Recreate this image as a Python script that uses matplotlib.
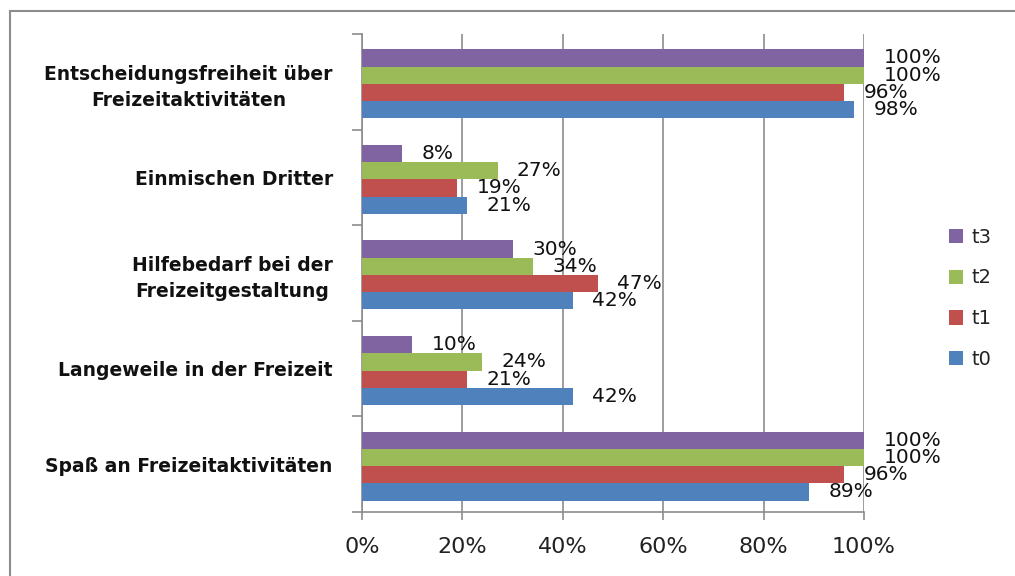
import matplotlib
matplotlib.use("Agg")
import matplotlib.pyplot as plt
import numpy as np
from matplotlib.patches import Rectangle

categories = [
    "Entscheidungsfreiheit über\nFreizeitaktivitäten",
    "Einmischen Dritter",
    "Hilfebedarf bei der\nFreizeitgestaltung",
    "Langeweile in der Freizeit",
    "Spaß an Freizeitaktivitäten",
]
series_names = ["t3", "t2", "t1", "t0"]
t3 = [100, 8, 30, 10, 100]
t2 = [100, 27, 34, 24, 100]
t1 = [96, 19, 47, 21, 96]
t0 = [98, 21, 42, 42, 89]
x_ticks = [0, 20, 40, 60, 80, 100]
x_tick_labels = ["0%", "20%", "40%", "60%", "80%", "100%"]

colors = ["#8064A2", "#9BBB59", "#C0504D", "#4F81BD"]
series = [t3, t2, t1, t0]

fig = plt.figure(figsize=(10.15, 5.76), dpi=100)
fig.patch.set_facecolor("white")

# outer frame
fig.add_artist(Rectangle((10 / 1015, -0.05), 1.2, 1 - 11 / 576 + 0.05,
                         transform=fig.transFigure, fill=False,
                         edgecolor="#8c8c8c", linewidth=1.5))

ax = fig.add_axes([362 / 1015, 64 / 576, 502 / 1015, 478 / 576])

h = 0.18
centers = np.arange(len(categories))
offsets = [-1.5 * h, -0.5 * h, 0.5 * h, 1.5 * h]
for vals, col, off, name in zip(series, colors, offsets, series_names):
    bars = ax.barh(centers + off + 0.02, vals, height=h, color=col, label=name,
                   edgecolor="none", zorder=3)
    for b, v in zip(bars, vals):
        ax.annotate(f"{v}%", xy=(v, b.get_y() + b.get_height() / 2),
                    xytext=(14, 0), textcoords="offset points",
                    ha="left", va="center", fontsize=14.5, color="#111111",
                    family="DejaVu Sans", annotation_clip=False)

ax.set_xlim(0, 100)
ax.set_ylim(len(categories) - 0.5, -0.5)

ax.set_xticks(x_ticks)
ax.set_xticklabels(x_tick_labels, fontsize=16, color="#222222")
ax.tick_params(axis="x", length=6, width=1.2, color="#8c8c8c", pad=12)
ax.xaxis.grid(True, color="#8c8c8c", linewidth=1.2, zorder=0)

ax.set_yticks(centers)
ax.set_yticklabels(categories, fontsize=13.5, fontweight="bold",
                   family="DejaVu Sans", color="#111111", ha="right",
                   multialignment="center", linespacing=1.45)
ax.tick_params(axis="y", length=0, pad=21)
ax.set_yticks(np.arange(len(categories) + 1) - 0.5, minor=True)
ax.tick_params(axis="y", which="minor", length=7, width=1.2, color="#8c8c8c")

for s in ["top", "right"]:
    ax.spines[s].set_visible(False)
for s in ["left", "bottom"]:
    ax.spines[s].set_color("#8c8c8c")
    ax.spines[s].set_linewidth(1.2)

leg = fig.legend(loc="center left", bbox_to_anchor=(931 / 1015, 0.482),
                 frameon=False, fontsize=14, handlelength=0.75,
                 handleheight=0.75, handletextpad=0.45, labelspacing=1.12)
for t in leg.get_texts():
    t.set_color("#222222")

fig.savefig("out.png", dpi=100, facecolor="white")
